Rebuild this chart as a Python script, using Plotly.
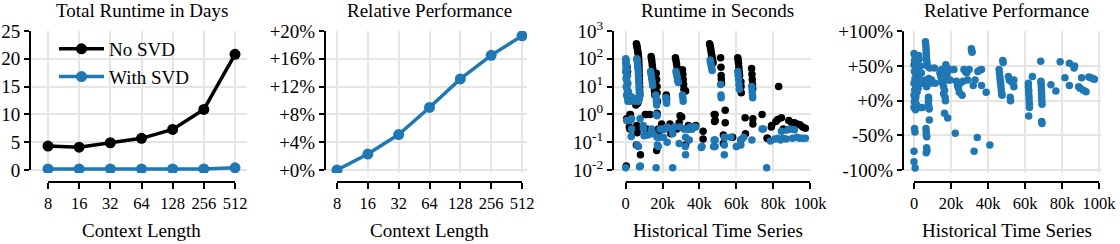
import plotly.graph_objects as go

# ---------------- data ----------------
context_lengths = ["8", "16", "32", "64", "128", "256", "512"]
days_no_svd = [4.3, 4.1, 4.9, 5.7, 7.3, 10.9, 20.8]
days_with_svd = [0.2, 0.2, 0.2, 0.2, 0.2, 0.2, 0.4]
rel_perf_ctx = [0.0, 2.3, 5.1, 9.0, 13.1, 16.5, 19.3]

# runtime in seconds vs historical time series (x in thousands)
nosvd_k = [0.3, 0.5, 0.8, 1.0, 2.0, 2.5, 2.3, 2.3,
           5.8, 6.0, 6.2, 6.4, 6.6, 6.8, 6.9, 7.0, 7.1, 7.2, 7.2, 7.3, 7.4, 7.4, 7.5, 7.6, 7.6, 7.7, 7.0, 6.5, 5.5,
           6.0, 6.2, 5.8, 8.0, 6.9,
           11.0, 11.5, 10.6, 11.4, 13.2,
           13.8, 14.0, 14.2, 14.4, 14.6, 14.8, 15.0, 15.2, 15.4, 15.6, 15.8,
           16.6, 16.8, 17.0, 17.0, 17.2, 17.0, 16.8, 18.0, 19.5, 20.5, 16.9, 17.7,
           22.0, 22.2, 24.0, 24.5, 24.0,
           27.0, 27.3, 27.6, 27.9, 28.2, 28.5, 28.8, 29.5, 29.0, 27.7,
           30.8, 31.0, 31.2, 31.4, 31.6, 32.5, 32.5, 30.4,
           34.0, 36.0, 38.0, 34.0, 42.0, 42.0,
           45.5, 45.8, 46.0, 46.2, 46.4, 46.6, 46.8, 47.0, 47.2, 47.4, 48.0, 48.2, 48.5, 48.6,
           51.5, 51.7, 51.8, 51.9, 52.0, 53.0, 53.0, 54.0, 54.0, 58.0,
           60.8, 61.0, 61.2, 61.4, 61.6, 61.8, 62.5, 62.6, 62.7, 62.5, 64.8, 65.0,
           68.3, 68.5, 68.7, 68.8, 68.9, 69.0, 69.0,
           74.0, 76.7, 77.0, 79.0, 79.2,
           81.5, 82.5, 83.0, 84.5, 85.5, 87.0, 88.5, 90.0, 91.5, 93.0, 94.5, 96.0, 97.5]
nosvd_sec = [0.014, 0.7, 50, 35, 0.35, 1.0, 0.3, 1.0,
             350, 300, 260, 220, 180, 150, 120, 100, 80, 60, 45, 35, 25, 18, 13, 9, 6.5, 5, 3.5, 2.5, 2.2,
             0.4, 0.22, 0.08, 0.035, 0.3,
             1.0, 0.27, 1.0, 0.3, 1.0,
             120, 100, 80, 60, 45, 32, 22, 15, 10, 7, 5,
             30, 18, 10, 6, 3, 1.1, 0.05, 0.25, 0.45, 0.3, 1.0, 0.3,
             5, 3.5, 0.45, 0.2, 0.3,
             110, 85, 65, 48, 35, 25, 18, 0.9, 0.5, 0.3,
             40, 28, 18, 12, 8, 7, 0.08, 0.8,
             0.4, 0.35, 0.4, 0.3, 0.25, 0.13,
             350, 300, 250, 210, 170, 140, 120, 100, 85, 70, 1.0, 0.55, 1.0, 0.6,
             110, 50, 25, 18, 13, 0.18, 0.09, 1.4, 0.5, 0.15,
             110, 90, 70, 50, 35, 25, 15, 10, 6, 0.12, 0.75, 0.2,
             45, 28, 18, 12, 8, 0.45, 0.7,
             1.0, 0.14, 0.14, 0.35, 0.4,
             0.55, 0.65, 10, 0.75, 0.3, 0.28, 0.6, 0.5, 0.5, 0.45, 0.42, 0.35, 0.32]

svd_k = [0.0, 0.3, 0.0, 0.5, 0.2, 0.8, 0.0, 0.4, 1.0, 0.2, 0.6, 1.2, 0.3, 0.8, 1.5, 0.5, 1.0, 2.0, 1.2,
         2.5, 3.0, 3.5, 4.0, 4.5, 5.0, 1.8, 2.6,
         0.0, 0.5, 2.5, 3.0, 3.2, 3.2,
         6.0, 6.2, 6.4, 6.5, 6.6, 6.8, 6.9, 7.0, 7.1, 7.2, 7.3, 7.4, 7.5, 7.3, 6.8,
         6.2, 7.5, 8.0, 6.9, 7.8,
         9.5, 10.0, 12.0, 9.6,
         13.5, 13.8, 14.1, 14.4, 14.6, 13.5, 14.0,
         16.3, 16.5, 16.7, 16.8, 16.5, 17.0, 17.2, 17.0, 16.5, 18.5, 18.7, 15.0, 17.7,
         20.0, 20.5, 21.4,
         21.8, 22.0, 22.2, 22.5, 22.5,
         25.5, 25.5, 26.5, 25.0,
         27.3, 27.6, 27.9, 28.2, 28.5,
         29.0, 29.5,
         30.8, 31.0, 31.2,
         31.5, 32.5, 32.5, 32.3, 32.3,
         34.0, 35.0, 36.0, 37.0, 38.0, 34.5, 35.9,
         41.0, 41.4,
         45.8, 46.0, 46.3, 46.6, 46.9,
         48.0, 48.0, 47.7, 48.5, 48.5,
         51.5, 51.7, 51.8,
         53.5, 53.5, 53.5, 54.0,
         57.0, 60.0, 60.2,
         60.8, 61.0, 61.2, 61.4, 61.6,
         62.5, 62.5, 64.0,
         68.4, 68.6, 68.8, 68.9, 68.5,
         74.0, 74.7, 76.5, 78.5,
         81.0, 82.5, 84.0, 84.5, 85.5, 87.0, 88.0, 89.5, 90.5, 91.5, 93.0, 94.5, 96.0, 97.5]
svd_sec = [100, 85, 70, 60, 50, 42, 35, 30, 25, 20, 16, 13, 10, 8, 6.5, 5, 4, 3.5, 3,
           4.5, 3.5, 4, 3.2, 3.8, 3, 4.2, 3.0,
           0.012, 0.6, 0.6, 0.16, 0.7, 0.3,
           100, 90, 75, 60, 48, 38, 28, 20, 15, 11, 8, 6, 4.5, 3.5, 3,
           0.08, 0.013, 0.014, 0.07, 0.7,
           0.4, 0.17, 0.18, 0.3,
           35, 27, 20, 15, 11, 0.2, 0.3,
           5, 4, 3, 2.2, 1.0, 0.9, 0.08, 0.15, 0.012, 0.15, 0.3, 0.2, 0.07,
           0.3, 0.15, 0.3,
           4, 3.3, 2.5, 0.35, 0.1,
           0.012, 0.2, 0.35, 0.3,
           35, 28, 22, 17, 14,
           0.09, 0.35,
           5, 4, 3,
           0.3, 0.035, 0.15, 0.3, 0.07,
           0.3, 0.35, 0.3, 0.35, 0.35, 0.12, 0.3,
           0.065, 0.07,
           90, 75, 60, 48, 38,
           0.12, 0.07, 0.07, 0.12, 0.07,
           12, 5, 4,
           0.15, 0.08, 0.035, 0.15,
           0.15, 0.07, 0.07,
           35, 25, 18, 12, 8,
           0.08, 0.12, 0.15,
           10, 7, 5, 4, 0.12,
           0.3, 0.3, 0.012, 0.11,
           0.13, 0.14, 0.12, 0.25, 0.14, 0.13, 0.28, 0.3, 0.14, 0.28, 0.15, 0.14, 0.14, 0.14]

# relative performance vs historical time series (x in thousands, %)
rel_k = [0.0, 0.5, 1.0, 0.3, 1.5, 0.0, 0.8, 1.8, 0.2, 1.2, 2.0, 0.5, 1.5, 0.0, 1.0, 2.2, 0.4, 1.6, 0.0, 1.0,
         0.6, 0.2, 1.2, 0.0, 0.8, 2.5, 2.0, 2.8, 0.3, 0.5, 0.0, 0.0, 0.6, 1.4, 0.9,
         3.5, 4.0, 3.8, 4.5, 3.5, 4.5,
         6.2, 6.4, 6.5, 6.6, 6.7, 6.8, 7.0, 7.2, 6.5, 6.8, 6.5, 6.6, 6.7, 6.8, 7.0, 6.6, 6.9,
         7.8, 7.9, 7.8, 8.0, 8.2, 8.3, 8.5, 8.0, 8.8, 9.5,
         11.0, 11.5,
         14.0, 14.5, 15.0, 15.5, 16.0, 16.5, 16.0, 16.8, 17.0, 15.0, 17.2, 17.5, 16.5, 18.2, 17.8, 18.5,
         19.5, 19.8, 21.6, 22.3,
         23.0, 23.5, 24.0, 24.5, 25.0, 26.0, 26.5,
         27.0, 27.8, 28.5, 29.0, 29.8,
         31.0, 31.2, 31.4,
         32.0, 32.5, 33.0, 34.2,
         34.5, 35.5, 36.5, 36.5, 39.0, 41.0,
         46.0, 46.2, 46.4, 46.6, 46.8, 47.0, 47.2, 47.4, 47.6, 48.0, 48.2,
         51.0, 51.5, 52.5, 53.5, 54.0, 52.0, 52.2, 54.0,
         61.8, 61.8, 62.0, 62.0, 62.2, 62.2, 62.4, 62.4, 62.0,
         64.0,
         68.5, 68.6, 68.7, 68.8, 68.9, 69.0, 69.0, 69.1, 69.2, 69.0, 69.2,
         74.0, 76.7, 79.0, 81.6, 84.0, 84.0, 86.5, 86.8, 89.0, 89.8, 90.6, 91.5, 93.0,
         94.5, 95.5, 96.5, 97.5]
rel_pct = [68, 65, 62, 58, 55, 52, 48, 45, 42, 38, 35, 32, 28, 25, 22, 18, 15, 12, 8, 5,
           2, -2, -5, -10, -13, 65, 50, 60, -40, -45, -73, -88, -97, 30, 10,
           50, 40, 30, 25, -10, -10,
           85, 80, 75, 70, 65, 60, 55, 50, 30, 20, -40, -45, -50, -68, -72, -75, -52,
           5, 2, -3, -8, -12, -28, 47, 32, 25, 30,
           47, 25,
           40, 35, 30, 25, 20, 15, 10, 5, 0, 45, 52, 48, -18, -25, 38, 30,
           30, 45, 45, -47,
           28, 22, 18, 12, 25, 8, 28,
           45, 42, 40, 30, 45,
           75, 72, 70,
           22, -73, 30, -53,
           42, 44, 45, 22, 12, -64,
           45, 40, 35, 30, 25, 20, 15, 10, 8, 58, 55,
           35, 30, 28, 25, 30, 5, 0, 20,
           25, 20, 15, 10, 5, 0, -5, -10, -22,
           35,
           57, 28, 25, 20, 15, 10, 5, 0, -5, -30, -33,
           23, 14, 56, 33, 22, 54, 47, 50, 20, 18, 33, 15, 13,
           34, 33, 32, 31]

# ---------------- style ----------------
W, H = 1120, 244
FONT = "Liberation Serif"
BLUE = "#1f77b4"
GRID = "#e5e5e5"
XTICKSZ = 16.5
YTICKSZ = 19
DOT = 7.5


def px_x(p):
    return p / W


def px_y(p):
    return 1 - p / H


Y_DOM = [px_y(173), px_y(31)]
XAX_POS = px_y(182)

fig = go.Figure()

# panel 1
fig.add_trace(go.Scatter(x=context_lengths, y=days_no_svd, mode="lines+markers", name="No SVD",
                         line=dict(color="black", width=3.5), marker=dict(size=11, color="black"),
                         xaxis="x", yaxis="y"))
fig.add_trace(go.Scatter(x=context_lengths, y=days_with_svd, mode="lines+markers", name="With SVD",
                         line=dict(color=BLUE, width=3.5), marker=dict(size=11, color=BLUE),
                         xaxis="x", yaxis="y"))
# panel 2
fig.add_trace(go.Scatter(x=context_lengths, y=rel_perf_ctx, mode="lines+markers", showlegend=False,
                         line=dict(color=BLUE, width=3.5), marker=dict(size=11, color=BLUE),
                         xaxis="x2", yaxis="y2"))
# panel 3
fig.add_trace(go.Scatter(x=[v * 1000 for v in nosvd_k], y=nosvd_sec, mode="markers", showlegend=False,
                         marker=dict(size=DOT, color="black"), xaxis="x3", yaxis="y3"))
fig.add_trace(go.Scatter(x=[v * 1000 for v in svd_k], y=svd_sec, mode="markers", showlegend=False,
                         marker=dict(size=DOT, color=BLUE), xaxis="x3", yaxis="y3"))
# panel 4
fig.add_trace(go.Scatter(x=[v * 1000 for v in rel_k], y=rel_pct, mode="markers", showlegend=False,
                         marker=dict(size=DOT, color=BLUE), xaxis="x4", yaxis="y4"))

common_x = dict(anchor="free", position=XAX_POS, showgrid=True, gridcolor=GRID, gridwidth=1.5,
                ticks="outside", ticklen=6, tickwidth=2, tickcolor="black", showline=False,
                zeroline=False, tickfont=dict(family=FONT, size=XTICKSZ, color="black"),
                automargin=False)
common_y = dict(domain=Y_DOM, showgrid=True, gridcolor=GRID, gridwidth=1.5,
                ticks="outside", ticklen=5, tickwidth=2, tickcolor="black", showline=False,
                zeroline=False, tickfont=dict(family=FONT, size=YTICKSZ, color="black"),
                automargin=False)

panels = [
    # (x left px, x right px, first tick px, last tick px)
    (30, 247, 48, 235),
    (325, 527, 337, 522),
    (613, 811, 625.7, 810),
    (903, 1101, 914, 1099),
]


def xr(left, right, t0, t1, v0, v1):
    per = (t1 - t0) / (v1 - v0)
    return [v0 - (t0 - left) / per, v1 + (right - t1) / per]


layout = dict(width=W, height=H, margin=dict(l=0, r=0, t=0, b=0, pad=0), autosize=False,
              template="none",
              paper_bgcolor="white", plot_bgcolor="white",
              font=dict(family=FONT, color="black"))

layout["xaxis"] = dict(common_x, domain=[px_x(30), px_x(247)], type="category",
                       range=xr(30, 247, 48, 235, 0, 6))
layout["yaxis"] = dict(common_y, anchor="x", range=[-0.54, 25.0], tickvals=[0, 5, 10, 15, 20, 25])

layout["xaxis2"] = dict(common_x, domain=[px_x(325), px_x(527)], type="category",
                        range=xr(325, 527, 337, 522, 0, 6))
pct_ticks = [0, 4, 8, 12, 16, 20]
layout["yaxis2"] = dict(common_y, anchor="x2", range=[-0.43, 20.0], tickvals=pct_ticks,
                        ticktext=["+%d%%" % t for t in pct_ticks])

k_ticks = [0, 20000, 40000, 60000, 80000, 100000]
k_text = ["0", "20k", "40k", "60k", "80k", "100k"]
layout["xaxis3"] = dict(common_x, domain=[px_x(613), px_x(811)],
                        range=xr(613, 811, 625.7, 810, 0, 100000), tickvals=k_ticks, ticktext=k_text)
log_ticks = [0.01, 0.1, 1, 10, 100, 1000]
log_text = ["10<sup>-2</sup>", "10<sup>-1</sup>", "10<sup>0</sup>", "10<sup>1</sup>",
            "10<sup>2</sup>", "10<sup>3</sup>"]
layout["yaxis3"] = dict(common_y, anchor="x3", type="log", range=[-2.108, 3.0],
                        tickvals=log_ticks, ticktext=log_text)

layout["xaxis4"] = dict(common_x, domain=[px_x(903), px_x(1101)],
                        range=xr(903, 1101, 914, 1099, 0, 100000), tickvals=k_ticks, ticktext=k_text)
rel_ticks = [-100, -50, 0, 50, 100]
layout["yaxis4"] = dict(common_y, anchor="x4", range=[-104.3, 100.5], tickvals=rel_ticks,
                        ticktext=["-100%", "-50%", "+0%", "+50%", "+100%"])

layout["legend"] = dict(x=px_x(54), y=px_y(30), xanchor="left", yanchor="top",
                        bgcolor="rgba(0,0,0,0)", font=dict(family=FONT, size=19, color="black"),
                        itemwidth=45)

# spines (trimmed to first/last tick)
spine = dict(color="black", width=2)
shapes = []
y_spans = [("y", 0, 25), ("y2", 0, 20), ("y3", 0.01, 1000), ("y4", -100, 100)]
x_names = ["x", "x2", "x3", "x4"]
x_spans = [(0, 6), (0, 6), (0, 100000), (0, 100000)]
for xn, (yn, a, b), (c, d) in zip(x_names, y_spans, x_spans):
    shapes.append(dict(type="line", xref=xn + " domain", x0=0, x1=0, yref=yn, y0=a, y1=b, line=spine))
    shapes.append(dict(type="line", xref=xn, x0=c, x1=d, yref="paper", y0=XAX_POS, y1=XAX_POS, line=spine))
layout["shapes"] = shapes

titles = ["Total Runtime in Days", "Relative Performance", "Runtime in Seconds", "Relative Performance"]
xlabels = ["Context Length", "Context Length", "Historical Time Series", "Historical Time Series"]
annotations = []
for (l, r, t0, t1), t, xl in zip(panels, titles, xlabels):
    cx = px_x((t0 + t1) / 2)
    annotations.append(dict(text=t, x=cx, y=px_y(11), xref="paper", yref="paper", showarrow=False,
                            xanchor="center", yanchor="middle", font=dict(family=FONT, size=19, color="black")))
    annotations.append(dict(text=xl, x=cx, y=px_y(230), xref="paper", yref="paper", showarrow=False,
                            xanchor="center", yanchor="middle", font=dict(family=FONT, size=19, color="black")))
layout["annotations"] = annotations

fig.update_layout(**layout)
fig.write_html("out.html", config={"displayModeBar": False},
               post_script="document.body.style.margin='0';document.body.style.overflow='hidden';")
